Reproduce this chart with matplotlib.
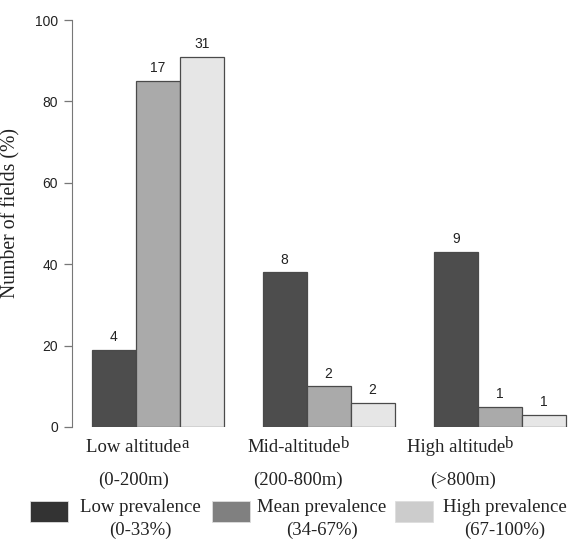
import matplotlib
matplotlib.use("Agg")
import numpy as np
import matplotlib.pyplot as plt
from matplotlib.patches import Rectangle

# data
groups = ["Low altitude", "Mid-altitude", "High altitude"]
group_sup = ["a", "b", "b"]
group_ranges = ["(0-200m)", "(200-800m)", "(>800m)"]
series = ["Low prevalence", "Mean prevalence", "High prevalence"]
series_ranges = ["(0-33%)", "(34-67%)", "(67-100%)"]
pct_low = [19, 38, 43]
pct_mean = [85, 10, 5]
pct_high = [91, 6, 3]
n_low = [4, 8, 9]
n_mean = [17, 2, 1]
n_high = [31, 2, 1]

bar_colors = ["#4d4d4d", "#aaaaaa", "#e6e6e6"]
legend_colors = ["#333333", "#808080", "#cccccc"]

W, H = 570, 539
fig = plt.figure(figsize=(W / 100, H / 100), dpi=100)
ax = fig.add_axes([72 / W, 1 - 427 / H, 1 - 72 / W, (427 - 20) / H])

def fy(px):
    return 1 - px / H

def fx(px):
    return px / W

group_start = np.array([0.0, 3.88, 7.78])
for k, (vals, counts) in enumerate(zip([pct_low, pct_mean, pct_high],
                                       [n_low, n_mean, n_high])):
    x = group_start + k + 0.5
    bars = ax.bar(x, vals, width=1.0, color=bar_colors[k],
                  edgecolor="#4a4a4a", linewidth=0.9)
    for b, c in zip(bars, counts):
        ax.annotate(str(c), (b.get_x() + b.get_width() / 2, b.get_height()),
                    xytext=(0, 4), textcoords="offset points",
                    ha="center", va="bottom", fontsize=10,
                    family="Liberation Sans", color="#222222")

ax.set_xlim(-0.45, (W - 72) / 44 - 0.45)
ax.set_ylim(0, 100)
ax.set_xticks([])
ax.set_yticks([0, 20, 40, 60, 80, 100])
for s in ["top", "right", "bottom"]:
    ax.spines[s].set_visible(False)
ax.spines["left"].set_color("#777777")
ax.tick_params(axis="y", length=6, width=0.9, color="#777777", pad=4,
               labelsize=10, labelcolor="#222222")
for t in ax.get_yticklabels():
    t.set_family("Liberation Sans")
ax.set_ylabel("Number of fields (%)", family="Liberation Serif",
              fontsize=14.2, color="#222222")
ax.yaxis.set_label_coords((20 - 72) / (W - 72), 0.527)
ax.patch.set_visible(False)

# category labels (main text, superscript, range line)
main_x = [134, 294, 456]
range_x = [134, 298, 463]
for mx, rx, g, sup, rng in zip(main_x, range_x, groups, group_sup, group_ranges):
    t = fig.text(fx(mx), fy(448), g, ha="center", va="center",
                 family="Liberation Serif", fontsize=13.5, color="#222222")
    ax.annotate(sup, xy=(1, 0.5), xycoords=t, xytext=(0, 0),
                textcoords="offset points", ha="left", va="baseline",
                family="Liberation Serif", fontsize=12, color="#222222",
                annotation_clip=False)
    fig.text(fx(rx), fy(480), rng, ha="center", va="center",
             family="Liberation Serif", fontsize=13.5, color="#222222")

# legend
patch_x = [30, 212, 395]
text_x = [140, 322, 505]
for px, tx, col, name, rng in zip(patch_x, text_x, legend_colors,
                                  series, series_ranges):
    fig.patches.append(Rectangle((fx(px), fy(522)), 38 / W, 21 / H,
                                 transform=fig.transFigure,
                                 facecolor=col, edgecolor="#dddddd",
                                 linewidth=0.6))
    fig.text(fx(tx), fy(507), name, ha="center", va="center",
             family="Liberation Serif", fontsize=13.5, color="#222222")
    fig.text(fx(tx), fy(530), rng, ha="center", va="center",
             family="Liberation Serif", fontsize=13.5, color="#222222")

fig.savefig("out.png", dpi=100)
